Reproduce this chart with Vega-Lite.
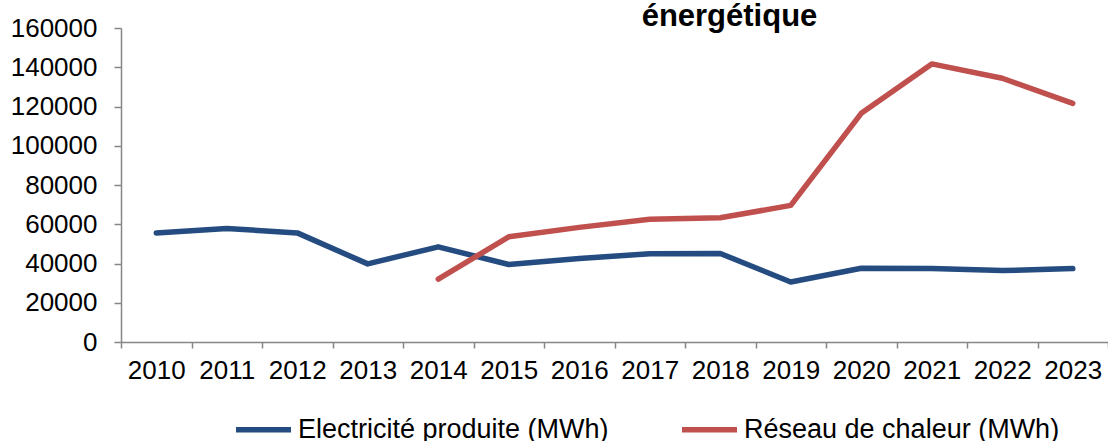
{
  "$schema": "https://vega.github.io/schema/vega-lite/v6.json",
  "autosize": {"type": "none"},
  "width": 987,
  "height": 314,
  "padding": {"left": 121, "top": 28, "right": 0, "bottom": 99},
  "background": "white",
  "title": {
    "text": "énergétique",
    "font": "Liberation Sans",
    "fontSize": 31,
    "fontWeight": "bold",
    "color": "black",
    "anchor": "middle",
    "baseline": "alphabetic",
    "offset": -42,
    "dx": 115
  },
  "data": {
    "values": [
      {"year": "2010", "series": "Electricité produite (MWh)", "value": 55600},
      {"year": "2011", "series": "Electricité produite (MWh)", "value": 57800},
      {"year": "2012", "series": "Electricité produite (MWh)", "value": 55600},
      {"year": "2013", "series": "Electricité produite (MWh)", "value": 39800},
      {"year": "2014", "series": "Electricité produite (MWh)", "value": 48500},
      {"year": "2015", "series": "Electricité produite (MWh)", "value": 39500},
      {"year": "2016", "series": "Electricité produite (MWh)", "value": 42500},
      {"year": "2017", "series": "Electricité produite (MWh)", "value": 45000},
      {"year": "2018", "series": "Electricité produite (MWh)", "value": 45100},
      {"year": "2019", "series": "Electricité produite (MWh)", "value": 30600},
      {"year": "2020", "series": "Electricité produite (MWh)", "value": 37600},
      {"year": "2021", "series": "Electricité produite (MWh)", "value": 37500},
      {"year": "2022", "series": "Electricité produite (MWh)", "value": 36400},
      {"year": "2023", "series": "Electricité produite (MWh)", "value": 37400},
      {"year": "2014", "series": "Réseau de chaleur (MWh)", "value": 32000},
      {"year": "2015", "series": "Réseau de chaleur (MWh)", "value": 53600},
      {"year": "2016", "series": "Réseau de chaleur (MWh)", "value": 58400},
      {"year": "2017", "series": "Réseau de chaleur (MWh)", "value": 62600},
      {"year": "2018", "series": "Réseau de chaleur (MWh)", "value": 63300},
      {"year": "2019", "series": "Réseau de chaleur (MWh)", "value": 69600},
      {"year": "2020", "series": "Réseau de chaleur (MWh)", "value": 116500},
      {"year": "2021", "series": "Réseau de chaleur (MWh)", "value": 141700},
      {"year": "2022", "series": "Réseau de chaleur (MWh)", "value": 134400},
      {"year": "2023", "series": "Réseau de chaleur (MWh)", "value": 121600}
    ]
  },
  "mark": {"type": "line", "strokeWidth": 5.5, "strokeCap": "round", "strokeJoin": "round"},
  "encoding": {
    "x": {
      "field": "year",
      "type": "ordinal",
      "bandPosition": 0.5,
      "scale": {"type": "band", "paddingInner": 0, "paddingOuter": 0},
      "axis": {
        "title": null,
        "labelAngle": 0,
        "tickBand": "extent",
        "labelFont": "Liberation Sans",
        "labelFontSize": 26,
        "labelColor": "black",
        "labelPadding": 9,
        "tickSize": 6,
        "tickColor": "#868686",
        "domainColor": "#868686",
        "domainWidth": 1.5,
        "tickWidth": 1.5,
        "grid": false
      }
    },
    "y": {
      "field": "value",
      "type": "quantitative",
      "scale": {"domain": [0, 160000], "nice": false},
      "axis": {
        "title": null,
        "values": [0, 20000, 40000, 60000, 80000, 100000, 120000, 140000, 160000],
        "format": "d",
        "labelFont": "Liberation Sans",
        "labelFontSize": 26,
        "labelColor": "black",
        "labelPadding": 17,
        "tickSize": 7,
        "tickColor": "#868686",
        "domainColor": "#868686",
        "domainWidth": 1.5,
        "tickWidth": 1.5,
        "grid": false
      }
    },
    "color": {
      "field": "series",
      "type": "nominal",
      "scale": {
        "domain": ["Electricité produite (MWh)", "Réseau de chaleur (MWh)"],
        "range": ["#254C80", "#C0504D"]
      },
      "legend": {
        "title": null,
        "orient": "none",
        "direction": "horizontal",
        "legendX": 112,
        "legendY": 371,
        "symbolType": "stroke",
        "symbolSize": 3025,
        "symbolStrokeWidth": 5.5,
        "labelFont": "Liberation Sans",
        "labelFontSize": 27,
        "labelColor": "black",
        "labelOffset": 4,
        "labelLimit": 500,
        "columnPadding": 62,
        "padding": 0
      }
    }
  },
  "config": {"view": {"stroke": null}}
}
